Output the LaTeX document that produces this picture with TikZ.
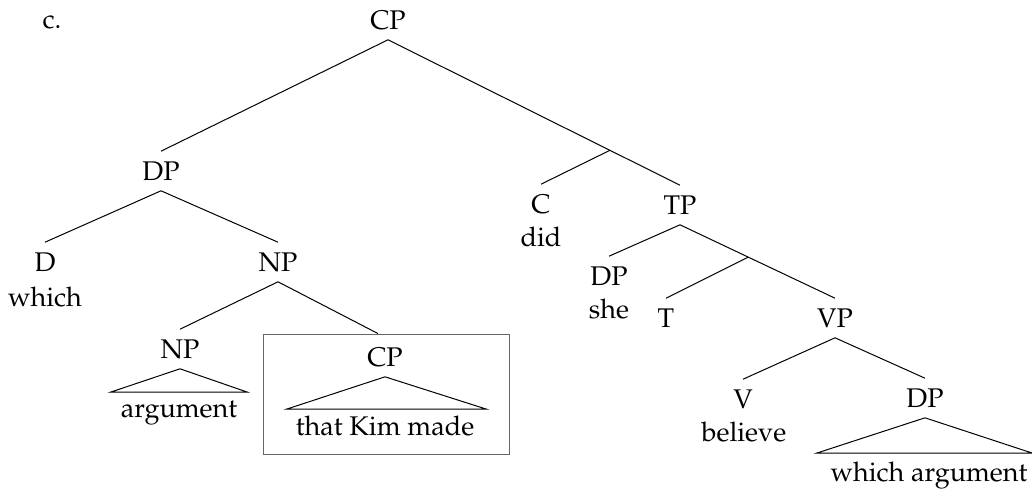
\documentclass[tikz,border=0pt]{standalone}
\usepackage[T1]{fontenc}
\usepackage{mathpazo}
\usetikzlibrary{positioning, calc}

\begin{document}
\begin{tikzpicture}[
		x=0.5pt, y=-0.5pt, line width=0.5pt,
		font=\fontsize{13.5}{16}\selectfont,
		cat/.style={inner xsep=1pt, inner ysep=5pt, text height=9.3pt, text depth=0pt},
		word/.style={anchor=base, inner sep=0pt},
		frame/.style={draw=black!60, line width=0.45pt, minimum width=123pt, minimum height=60pt}
		]
		\useasboundingbox (0,0) rectangle (1032,488);
		
		\node (label) at (52,28) [word] {c.};
		\node (cp) at (388,20) [cat] {CP};
		\node (dp) at (161,171) [cat] {DP};
		\node (tp) at (680,205) [cat] {TP};
		\coordinate (cbar) at ($(cp.south)!0.76!(tp.north)$);
		\node (c) at (541,204) [cat] {C};
		\node (did) at (541,246) [word] {did};
		\node (d) at (45,262) [cat] {D};
		\node (which) at (45,306) [word] {which};
		\node (np) at (278,262) [cat] {NP};
		\node (dpshe) at (609,276) [cat] {DP};
		\node (she) at (609,318) [word] {she};
		\node (t) at (666,318) [cat] {T};
		\node (vp) at (835,318) [cat] {VP};
		\coordinate (tbar) at ($(tp.south)!0.44!(vp.north)$);
		\node (npa) at (180,349) [cat] {NP};
		\node (cpbox) at (386,394) [frame] {};
		\node (cpr) at (385,357) [cat] {CP};
		\node (v) at (743,399) [cat] {V};
		\node (believe) at (744,441) [word] {believe};
		\node (dpwa) at (925,398) [cat] {DP};
		
		% triangles
		\coordinate (argl) at (111,392);
		\coordinate (argr) at (247,392);
		\node (arg) at (179,417) [word] {argument};
		\coordinate (tkml) at (287,409);
		\coordinate (tkmr) at (486,409);
		\node (tkm) at (385,435) [word] {that Kim made};
		\coordinate (wal) at (817,453);
		\coordinate (war) at (1032,453);
		\node (wa) at (929,481) [word] {which argument};
		
		\draw (cp.south) -- (dp.north);
		\draw (cp.south) -- (cbar) -- (tp.north);
		\draw (cbar) -- (c.north);
		\draw (dp.south) -- (d.north);
		\draw (dp.south) -- (np.north);
		\draw (np.south) -- (npa.north);
		\draw (np.south) -- ([xshift=-4pt]cpbox.north);
		\draw (tp.south) -- (dpshe.north);
		\draw (tp.south) -- (tbar) -- (vp.north);
		\draw (tbar) -- (t.north);
		\draw (vp.south) -- (v.north);
		\draw (vp.south) -- (dpwa.north);
		\draw (npa.south) -- (argl) -- (argr) -- cycle;
		\draw (cpr.south) -- (tkml) -- (tkmr) -- cycle;
		\draw (dpwa.south) -- (wal) -- (war) -- cycle;
	\end{tikzpicture}
\end{document}
